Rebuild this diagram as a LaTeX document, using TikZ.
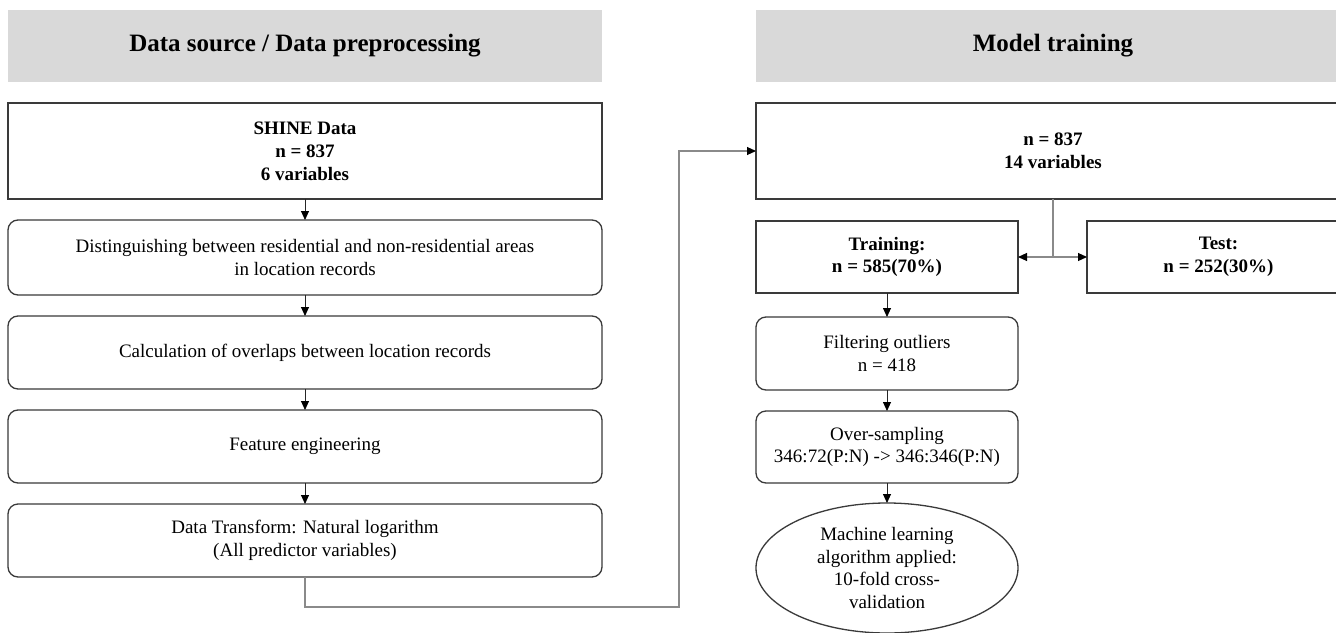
\documentclass[tikz,border=0pt]{standalone}
\usepackage{fontspec}
\setmainfont{Liberation Serif}
\usetikzlibrary{arrows.meta,shapes.geometric}
\definecolor{hdrgray}{HTML}{D9D9D9}
\definecolor{boxline}{HTML}{3A3A3A}
\definecolor{conngray}{HTML}{8A8A8A}
\begin{document}
\begin{tikzpicture}[x=1pt,y=1pt,
  every node/.style={inner sep=0pt,outer sep=0pt,align=center,font=\fontsize{19}{22.8}\selectfont},
  hdr/.style={fill=hdrgray,draw=none,minimum width=594pt,minimum height=72pt,font=\fontsize{25}{30}\selectfont\bfseries},
  sqbox/.style={draw=boxline,line width=1.3pt,fill=white,font=\fontsize{19}{22.8}\selectfont\bfseries},
  rbox/.style={draw=boxline,line width=1.3pt,fill=white,rounded corners=10pt},
  ellbox/.style={ellipse,draw=boxline,line width=1.3pt,fill=white},
  sarrow/.style={draw=black!85,line width=0.9pt,-{Triangle[length=9pt,width=8pt,fill=black,color=black]}},
  conn/.style={draw=conngray,line width=1.1pt},
  connarrow/.style={conn,-{Triangle[length=9pt,width=8pt,fill=black,color=black]}}
]
\useasboundingbox (0,0) rectangle (1336,-632);
\clip (0,0) rectangle (1336,-632);
\fill[white] (0,0) rectangle (1336,-632);

% Left column
\node[hdr] (hL) at (305,-46) {Data source / Data preprocessing};
\node[sqbox,minimum width=594pt,minimum height=96pt] (shine) at (305,-151) {SHINE Data\\n = 837\\6 variables};
\node[rbox,minimum width=594pt,minimum height=75pt] (b1) at (305,-257.5) {Distinguishing between residential and non-residential areas\\in location records};
\node[rbox,minimum width=594pt,minimum height=73pt] (b2) at (305,-352.5) {Calculation of overlaps between location records};
\node[rbox,minimum width=594pt,minimum height=73pt] (b3) at (305,-446.5) {Feature engineering};
\node[rbox,minimum width=594pt,minimum height=73pt] (b4) at (305,-540.5) {Data Transform: Natural logarithm\\(All predictor variables)};

\draw[sarrow] (shine.south) -- (b1.north);
\draw[sarrow] (b1.south) -- (b2.north);
\draw[sarrow] (b2.south) -- (b3.north);
\draw[sarrow] (b3.south) -- (b4.north);

% Right column
\node[hdr] (hR) at (1053,-46) {Model training};
\node[sqbox,minimum width=594pt,minimum height=96pt] (n837) at (1053,-151) {n = 837\\14 variables};
\node[sqbox,minimum width=262pt,minimum height=72pt] (train) at (887,-257) {Training:\\n = 585(70\%)};
\node[sqbox,minimum width=263pt,minimum height=72pt] (test) at (1218.5,-257) {Test:\\n = 252(30\%)};
\node[rbox,minimum width=262pt,minimum height=73pt] (filt) at (887,-353.5) {Filtering outliers\\n = 418};
\node[rbox,minimum width=262pt,minimum height=72pt] (over) at (887,-447) {Over-sampling\\346:72(P:N) -> 346:346(P:N)};
\node[ellbox,minimum width=262pt,minimum height=130pt] (ml) at (887,-568) {Machine learning\\algorithm applied:\\10-fold cross-\\validation};

\draw[sarrow] (train.south) -- (filt.north);
\draw[sarrow] (filt.south) -- (over.north);
\draw[sarrow] (over.south) -- (ml.north);

% Connector from left column to right column
\coordinate (c1) at (679,-607);
\draw[connarrow] (b4.south) |- (c1) |- (n837.west);

% Split into training / test
\coordinate (sp) at (1053,-257);
\draw[conn] (n837.south) -- (sp);
\draw[connarrow] (sp) -- (train.east);
\draw[connarrow] (sp) -- (test.west);
\end{tikzpicture}
\end{document}
